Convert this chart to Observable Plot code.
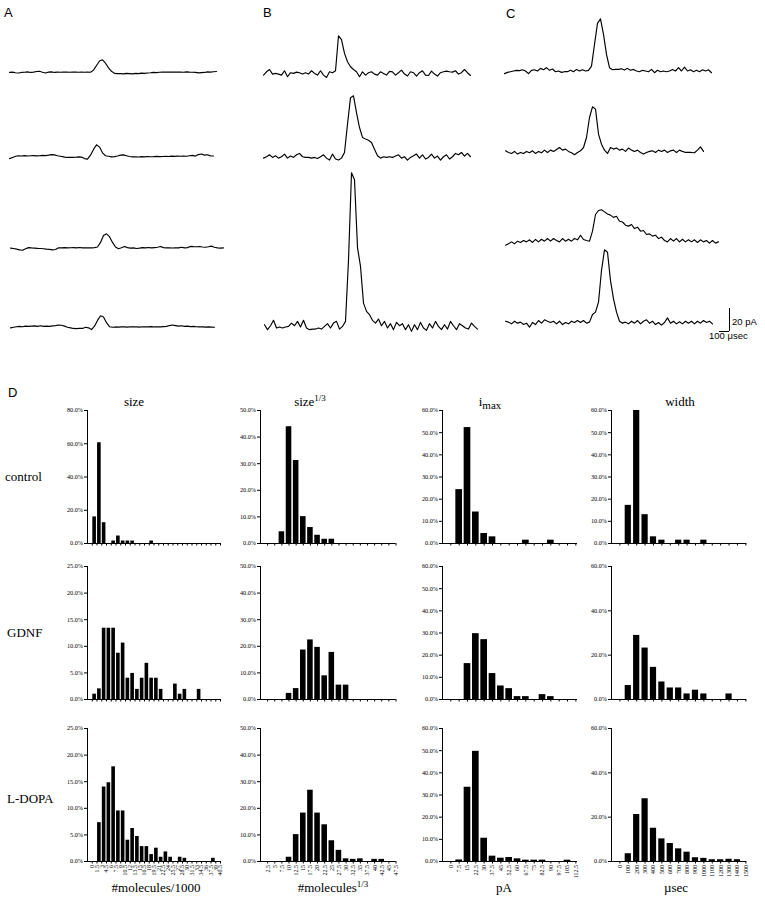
<!DOCTYPE html>
<html><head><meta charset="utf-8">
<script src="https://cdn.jsdelivr.net/npm/d3@7"></script>
<script src="https://cdn.jsdelivr.net/npm/@observablehq/plot@0.6"></script>
<style>
body{margin:0;background:#fff;}
#fig{position:relative;width:765px;height:900px;overflow:hidden;background:#fff;}
.t{position:absolute;white-space:nowrap;line-height:1;color:#000;}
.serif{font-family:"Liberation Serif","Times New Roman",serif;font-size:13px;}
.sans{font-family:"Liberation Sans",Arial,sans-serif;}
.sup{position:relative;top:-5px;font-size:9px;}
.sub{position:relative;top:3px;font-size:11px;}
</style></head><body><div id="fig"></div>
<script>
// ---------- amperometric traces (pA, one sample every 30 µs) ----------
const traceA1 = [0,0.3,-0.3,-0.5,0,0.2,0.5,0,0.3,0.8,1,0.2,-0.5,0.3,0.5,0,0.3,0.2,0.4,0.3,0.2,0.4,0.3,0.2,0.3,0.2,0.3,0.2,2,6,10,11,8,4,1,-0.8,-1,-1,-1.2,-0.8,-1,-1.3,-0.8,-1,-0.6,-0.8,-0.5,-0.3,0,-0.2,0.2,0.3,0.4,0.3,0.4,0.3,0.3,0.4,0.2,0.5,0.3,0.2,0,-0.4,-0.2,0,0.5,0.3,0.6,0.8];
const traceA2 = [-2,-1,0,0.5,0.3,0.6,0.3,0.5,0.6,0.4,0.5,0.8,0.6,1,1.5,1.2,0.5,0,-0.5,-1,-1,-1,-0.8,-0.5,-0.7,-2,-2.5,1,6,10,8,3,0.5,0,-0.5,-0.3,0.3,1,1.2,0.5,-0.2,-0.5,-0.4,-0.6,-0.3,-0.5,-0.2,-0.4,-0.3,-0.1,-0.3,-0.2,0,-0.2,0.1,-0.1,0.2,0,0.3,0,0.5,0.8,0.2,1.5,2,1,1.3,0.4,0.3];
const traceA3 = [0,-0.3,-0.8,-1.5,-1.8,-0.5,0.5,0.2,0,-0.2,-0.3,-0.5,-0.8,-1,-1.5,-1.2,0.3,0.3,0.5,0.3,0.4,0.5,0.3,0.6,0.3,0.4,0.2,0.3,0.5,1,5,11,12.5,10,5,1,-0.5,0.3,1.5,0.5,0,0.2,-0.3,0,0.5,0.3,0.6,0.2,0.5,0.8,1.5,0.5,0.3,0.4,0.1,0.3,0.2,0.8,0.3,0.5,1.5,1.3,1.2,1.4,1,0.8,1.2,1.8,0.8,0.3,0,0.2];
const traceA4 = [-0.5,0,0.5,0.8,0.5,1,0.8,1,1.2,0.8,1.3,0.8,1,0.8,1.2,1.5,2,1.8,1,0,-0.5,-1,-1.2,-0.8,-1,0,-0.5,-2,1,6,10,9,4,0.5,0,0.3,0.2,0.4,0.3,0.2,0.5,0.3,0.4,0.2,0.5,0.3,0.4,0.6,0.3,0.5,0.4,0.6,0.8,1.5,2,1.5,1,1.3,0.8,1,0.6,0.8,0.5,0.3,0.4,0.2,0.3,0.2,0];
const traceB1 = [-0.9,2,4,0,0.6,0,-0.9,2.9,-2.3,1.2,0.6,1.7,1.2,0,1.2,0,2.9,0.6,-0.9,2.9,-0.9,-2.9,2,1.2,2.9,33.3,30,18,10.7,6.4,4,2,-2.3,2,-0.9,1.2,2,0,-0.9,2,0.6,-0.9,2.3,2,-0.9,1.2,3.5,0,-1.7,2,1.2,-1.7,1.2,2.9,-0.9,-1.2,2.6,0,-1.7,1.2,2,2.6,2,1.7,2.9,0,1.2,4,1.2,-1.2];
const traceB2 = [-0.6,0.6,2.3,0,1.4,-0.6,0.6,2.9,-0.6,1.2,0,2.3,3.5,0.6,0,0,-0.6,0,-0.9,0.6,2.3,-0.6,-2.3,2.9,-1.4,-2.3,-0.6,4.3,29,52,53.6,39,26,17.4,16,15,13,7.2,1.4,-0.6,0.6,0,0.6,0,1.2,2.3,-0.6,0.6,-2.3,0,1.4,2.9,-0.6,2.3,-1.4,0,2.9,-0.6,1.2,-2.3,0.6,2.3,-1.4,0.6,3.5,2.3,4.3,1.2,3.5,0.6];
const traceB3 = [2.9,-1.4,2,6.7,0,0.9,0,0.9,1.4,4.3,2,5.8,0.9,6.7,0,-1.4,-0.9,-0.9,0,-0.9,1.4,3.8,0,4.3,5.8,-0.9,1.4,5.8,59,135,129,70,53.6,21.7,14.5,11.6,6.7,4.3,7.8,2,5.8,0,3.8,-1.4,4.9,2,3.8,-1.4,2.9,-2.9,2.9,-1.4,4.9,0,-2,3.8,0,5.8,1.4,-1.4,2.9,-0.9,5.8,2,-1.4,3.8,2,0,-0.9,4.3,1.4,-0.9];
const traceC1 = [-1.7,-0.6,0,0.6,1.2,0.9,1.7,0.6,-1.7,1.2,1.7,0.6,2.9,1.7,3.5,1.2,2.3,0,0.6,-0.6,0,0,1.2,0,2,0.6,1.7,0.6,1.2,4.9,23.8,42,46,32.5,15,3.5,1.7,2,2,2.6,1.4,2.9,1.2,2,0.6,0,1.2,0.6,0,2,-0.9,1.2,0,0.6,0,0.6,2,0.6,3.5,0.6,4,0.6,1.7,0,1.2,0,1.7,0.6,1.7,-0.9];
const traceC2 = [1.4,0,-0.9,0.9,-1.4,0,-0.9,0.9,-0.3,1.4,-0.9,0.9,-0.3,2,0,2,0.9,2.6,4.3,2,2.9,0.9,-0.3,-2,0,1.4,4.3,13,30.4,39.7,37.7,16,7.2,2,-0.9,4.3,2.9,3.8,2,2.9,0.9,3.8,2,0.9,2,0,-1.4,0,0.9,1.4,0,2,0.9,2,0,1.4,2,0,2,0.9,0,0,0,-0.3,2,4.9,0.9];
const traceC3 = [-1.2,0,1.7,0,2.3,1.2,2.9,1.7,3.5,1.2,3.8,1.7,4,2.3,4.6,2.3,4.6,2.9,1.7,4.6,2.3,4,2.3,4.6,3.5,7.5,3.8,2.9,2.3,11,25.5,29,29.6,27.8,26,25,23,24,19.7,19,16.2,15.4,16.8,13.3,14.5,11,11.6,8.1,8.7,6.7,7.5,4.6,5.8,2.9,1.7,4.6,2.3,4.6,1.7,4,1.7,3.5,1.7,3.5,1.2,3.5,1.7,2.9,0.6,2.9,0.6,1.7];
const traceC4 = [1.7,0.9,-0.6,1.7,0,0.9,-1.2,0,-3.5,0.6,-1.2,2.3,0,2.9,1.7,0.6,1.7,-0.6,1.7,-1.2,0.6,-0.6,1.7,0.6,2.3,0.6,2.3,0,0.9,7.5,9.6,18.3,45.8,63.8,61.7,37,21.2,9.6,1.7,0,0.9,-0.6,1.7,0,2.3,-0.6,1.7,2.9,0,1.7,-1.2,0.6,-1.7,0.6,4.6,0,1.7,-0.6,1.2,-0.6,1.7,0,1.7,-0.6,1.7,0,2.3,0.6,1.7,-0.6];
const sampleUs = 30;
const scaleBarPA = 20;
const scaleBarUS = 100;

// ---------- histogram tick labels ----------
const sizeLabels = ["0","1.5","3","4.5","6","7.5","9","10.5","12","13.5","15","16.5","18","19.5","21","22.5","24","25.5","27","28.5","30","31.5","33","34.5","36","37.5","39","40.5"];
const cubeLabels = ["2.5","5","7.5","10","12.5","15","17.5","20","22.5","25","27.5","30","32.5","35","37.5","40","42.5","45","47.5"];
const imaxLabels = ["0","7.5","15","22.5","30","37.5","45","52.5","60","67.5","75","82.5","90","97.5","105","112.5"];
const widthLabels = ["0","100","200","300","400","500","600","700","800","900","1000","1100","1200","1300","1400","1500"];

// ---------- histogram values (% of events) ----------
const controlSize = [0,16,60.6,12.5,0,1.5,4.5,1.5,1.5,1.5,0,0,0,1.5,0,0,0,0,0,0,0,0,0,0,0,0,0,0];
const gdnfSize    = [0,1,2,13.4,13.4,13.4,8.7,10.6,4,4.9,1.9,4,6.8,4,4,1.9,0,0,2.9,1,1.9,0,0,1.9,0,0,0,0];
const ldopaSize   = [0,0,7.3,14,14.8,17.8,9.5,9.5,4,6.2,4.7,2.8,2.8,1.3,2.5,0.8,1.8,0.8,0,0.8,0.6,0,0,0,0,0,0.6,0];
const controlCube = [0,0,4.4,43.9,31.2,10.1,6,3.1,1.6,1.6,0,0,0,0,0,0,0,0,0];
const gdnfCube    = [0,0,0,2.3,4.1,18.6,22.4,19.6,8.9,17.7,5.4,5.4,0,0,0,0,0,0,0];
const ldopaCube   = [0,0,0,1.6,10.1,18.2,26.8,18.2,13.8,7.8,4.2,1,0.8,1,0,0.8,0.8,0,0];
const controlImax = [0,24.3,52.3,14.2,4.5,3,0,0,0,1.5,0,0,1.5,0,0,0];
const gdnfImax    = [0,0,16.2,29.7,27,11.7,6.1,4.9,1.3,1.3,0,2.2,1.3,0,0,0];
const ldopaImax   = [0,0.7,33.5,49.7,10.5,2.4,1.5,1.8,1.2,0.6,0.6,0.6,0,0,0.6,0];
const controlWidth = [0,17.2,60,13,3,1.5,0,1.5,1.5,0,1.5,0,0,0,0,0];
const gdnfWidth    = [0,6.3,28.9,23.2,14.5,7.9,5.2,5.2,2.5,4.2,2.5,0,0,2.5,0,0];
const ldopaWidth   = [0,3.5,21.2,28.3,15,10.2,8.1,5.7,4.2,1.7,1.4,0.8,0.8,1,0.8,0];

const fig = document.getElementById("fig");
const pxPerUs = 0.1, pxPerPA = 1.15;

function place(svg, left, top) {
  svg.style.position = "absolute";
  svg.style.left = left + "px";
  svg.style.top = top + "px";
  svg.style.background = "transparent";
  svg.style.overflow = "visible";
  svg.style.maxWidth = "none";
  fig.appendChild(svg);
}
function text(html, cls, left, baseline, opts = {}) {
  const d = document.createElement("div");
  d.className = "t " + cls;
  d.innerHTML = html;
  const fs = opts.fs || 13;
  d.style.fontSize = fs + "px";
  d.style.left = left + "px";
  d.style.top = (baseline - fs * 0.85) + "px";
  if (opts.center) d.style.transform = "translateX(-50%)";
  fig.appendChild(d);
}

function trace(values, left, baseline) {
  const n = values.length;
  const lo = Math.min(d3.min(values), 0) - 2, hi = d3.max(values) + 2;
  const width = (n - 1) * sampleUs * pxPerUs;
  const height = (hi - lo) * pxPerPA;
  const svg = Plot.plot({
    width, height, margin: 0,
    x: {domain: [0, (n - 1) * sampleUs], axis: null},
    y: {domain: [lo, hi], axis: null},
    marks: [Plot.line(values, {x: (d, i) => i * sampleUs, y: d => d, stroke: "#000", strokeWidth: 1.15})]
  });
  place(svg, left, baseline - hi * pxPerPA);
}

trace(traceA1, 9, 72);
trace(traceA2, 9, 156);
trace(traceA3, 10, 248);
trace(traceA4, 10, 327);
trace(traceB1, 263, 74);
trace(traceB2, 263, 157);
trace(traceB3, 264, 328);
trace(traceC1, 504, 71);
trace(traceC2, 505, 152);
trace(traceC3, 505, 243);
trace(traceC4, 505, 323);

// scale bar
{
  const w = scaleBarUS * pxPerUs, h = scaleBarPA * pxPerPA;
  const svg = Plot.plot({
    width: w, height: h, margin: 0,
    x: {domain: [0, scaleBarUS], axis: null},
    y: {domain: [0, scaleBarPA], axis: null},
    marks: [Plot.ruleY([0], {stroke: "#000"}), Plot.ruleX([scaleBarUS], {stroke: "#000"})]
  });
  place(svg, 719, 331 - h);
}
text("20 pA", "sans", 732, 325, {fs: 9.5});
text("100 &mu;sec", "sans", 709, 339, {fs: 9.5});

// panel letters
text("A", "sans", 4, 17, {fs: 13});
text("B", "sans", 263, 17, {fs: 13});
text("C", "sans", 506, 18, {fs: 13});
text("D", "sans", 8, 397, {fs: 13});

// ---------- histograms ----------
const cols = [
  {x: 87,  w: 133,   dmax: 28,   off: 0.5, hw: 0.38, labels: sizeLabels},
  {x: 260, w: 135.5, dmax: 19,   off: 1,   hw: 0.39, labels: cubeLabels},
  {x: 442, w: 135,   dmax: 16.2, off: 1,   hw: 0.40, labels: imaxLabels},
  {x: 611, w: 135.2, dmax: 16.1, off: 1,   hw: 0.37, labels: widthLabels}
];
const rows = [
  {top: 410, scales: [[80, 20], [50, 10], [60, 10], [60, 10]], series: [controlSize, controlCube, controlImax, controlWidth]},
  {top: 566, scales: [[25, 5], [50, 10], [60, 10], [60, 20]], series: [gdnfSize, gdnfCube, gdnfImax, gdnfWidth]},
  {top: 728, scales: [[25, 5], [50, 10], [60, 10], [60, 20]], series: [ldopaSize, ldopaCube, ldopaImax, ldopaWidth]}
];
const plotH = 133;

rows.forEach((r, ri) => {
  cols.forEach((c, ci) => {
    const values = r.series[ci];
    const [ymax, ystep] = r.scales[ci];
    const bottom = ri === 2;
    const ml = 32, mr = 3, mt = 3, mb = bottom ? 30 : 6;
    const data = values.map((v, i) => ({pos: i + c.off, v})).filter(d => d.v > 0);
    const tickPos = c.labels.map((l, i) => i + 1);
    const svg = Plot.plot({
      width: ml + c.w + mr, height: mt + plotH + mb,
      marginLeft: ml, marginRight: mr, marginTop: mt, marginBottom: mb,
      style: {fontFamily: "Liberation Serif, Times New Roman, serif", fontSize: "6px", color: "#000"},
      x: {domain: [0, c.dmax]},
      y: {domain: [0, ymax]},
      marks: [
        Plot.rect(data, {x1: d => d.pos - c.hw, x2: d => d.pos + c.hw, y1: () => 0, y2: "v", fill: "#000"}),
        Plot.axisY(d3.range(0, ymax + ystep / 2, ystep), {tickSize: 3, tickPadding: 1.5, tickFormat: d => d.toFixed(1) + "%", label: null, fontSize: 6.2, fill: "#000"}),
        Plot.axisX(tickPos, {tickSize: 2.5, tickPadding: 1, tickRotate: bottom ? -90 : 0,
          tickFormat: bottom ? (p => c.labels[p - 1]) : (() => ""), label: null, fontSize: 6, fill: "#000"}),
        Plot.ruleY([0], {stroke: "#000", strokeWidth: 1}),
        Plot.ruleX([0], {stroke: "#000", strokeWidth: 1})
      ]
    });
    place(svg, c.x - ml, r.top - mt);
  });
});

// column titles
text("size", "serif", 134, 406, {center: true});
text("size<span class='sup'>1/3</span>", "serif", 310, 406, {center: true});
text("i<span class='sub'>max</span>", "serif", 490, 406, {center: true});
text("width", "serif", 680, 406, {center: true});
// row labels
text("control", "serif", 5, 481);
text("GDNF", "serif", 7, 637);
text("L-DOPA", "serif", 7, 803);
// x-axis titles
text("#molecules/1000", "serif", 156, 892, {center: true});
text("#molecules<span class='sup'>1/3</span>", "serif", 333, 892, {center: true});
text("pA", "serif", 504, 892, {center: true});
text("&micro;sec", "serif", 676, 892, {center: true});
</script></body></html>
